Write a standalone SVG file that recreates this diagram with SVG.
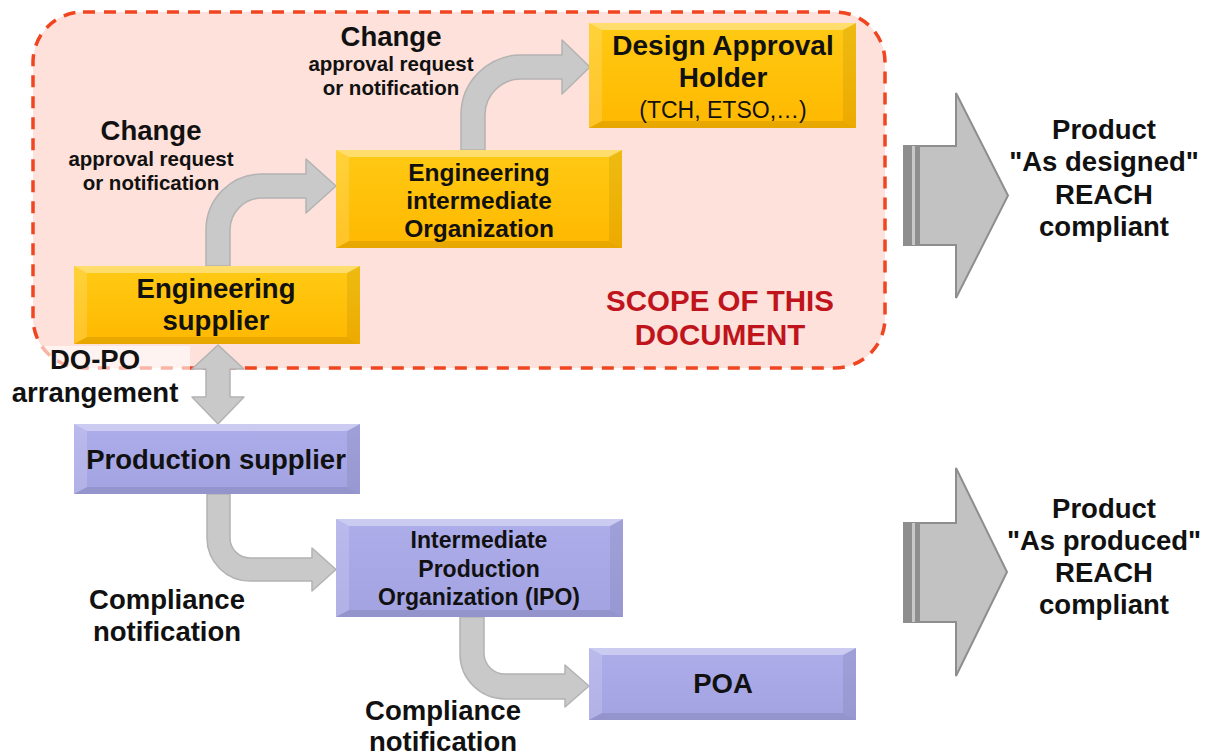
<svg xmlns="http://www.w3.org/2000/svg" width="1207" height="756" viewBox="0 0 1207 756">
  <defs>
    <linearGradient id="goldFace" x1="0" y1="0" x2="0" y2="1">
      <stop offset="0" stop-color="#FFCA14"/>
      <stop offset="1" stop-color="#FFB800"/>
    </linearGradient>
    <linearGradient id="lilacFace" x1="0" y1="0" x2="0" y2="1">
      <stop offset="0" stop-color="#ADADEA"/>
      <stop offset="1" stop-color="#A3A3E2"/>
    </linearGradient>
    <style>
      .t { font-family: "Liberation Sans", Arial, sans-serif; font-weight: bold; fill: #111; text-anchor: middle; }
      .r { font-family: "Liberation Sans", Arial, sans-serif; font-weight: normal; fill: #111; text-anchor: middle; }
      .scope { font-family: "Liberation Sans", Arial, sans-serif; font-weight: bold; fill: #C0141C; text-anchor: middle; font-size: 29.5px; }
      .gold { fill: url(#goldFace); }
      .lilac { fill: url(#lilacFace); }
      .bv-top { fill: #fff; opacity: 0.38; }
      .bv-left { fill: #fff; opacity: 0.16; }
      .bv-right { fill: #000; opacity: 0.07; }
      .bv-bot { fill: #000; opacity: 0.09; }
      .flow { fill: #C9C9C9; stroke: #B3B3B3; stroke-width: 1.5; stroke-linejoin: round; }
      .big { fill: #C2C2C2; stroke: #8E8E8E; stroke-width: 2; stroke-linejoin: miter; }
      .stripe-d { fill: #8E8E8E; }
      .stripe-l { fill: #C8C8C8; }
    </style>
  </defs>

  <rect width="1207" height="756" fill="#fff"/>

  <!-- scope frame -->
  <g id="scope">
    <rect x="33" y="12" width="852" height="356" rx="50" ry="50" fill="#FDE1DA" stroke="#F04520" stroke-width="3.5" stroke-dasharray="12 9"/>
    <rect x="38" y="346" width="152" height="27" fill="#fff" opacity="0.6"/>
    <text class="scope" x="720" y="311">SCOPE OF THIS</text>
    <text class="scope" x="720" y="345">DOCUMENT</text>
  </g>

  <!-- connectors -->
  <g id="connectors">
    <path class="flow" d="M206,266 L206,230 A56,56 0 0 1 262,174 L306,174 L306,159 L336,186 L306,213 L306,198 L262,198 A32,32 0 0 0 230,230 L230,266 Z"/>
    <path class="flow" d="M461,150 L461,115 A60,60 0 0 1 521,55 L562,55 L562,40 L590,67 L562,94 L562,79 L521,79 A36,36 0 0 0 485,115 L485,150 Z"/>
    <path class="flow" d="M218,345 L244,369 L230,369 L230,397 L244,397 L218,424 L192,397 L206,397 L206,369 L192,369 Z"/>
    <path class="flow" d="M207,494 L207,538 A43,43 0 0 0 250,581 L312,581 L312,591 L336,569.5 L312,548 L312,558 L250,558 A20,20 0 0 1 230,538 L230,494 Z"/>
    <path class="flow" d="M460,617 L460,654 A45,45 0 0 0 505,699 L565,699 L565,707 L589,686 L565,665 L565,674 L505,674 A21,21 0 0 1 484,654 L484,617 Z"/>

    <text class="t" x="151" y="140" font-size="27.5">Change</text>
    <text class="t" x="151" y="166" font-size="20.5">approval request</text>
    <text class="t" x="151" y="190" font-size="20.5">or notification</text>

    <text class="t" x="391" y="46" font-size="27.5">Change</text>
    <text class="t" x="391" y="71" font-size="20.5">approval request</text>
    <text class="t" x="391" y="95" font-size="20.5">or notification</text>

    <text class="t" x="95" y="369" font-size="27.5">DO-PO</text>
    <text class="t" x="95" y="402" font-size="27.5">arrangement</text>

    <text class="t" x="167" y="609" font-size="27.5">Compliance</text>
    <text class="t" x="167" y="641" font-size="27.5">notification</text>

    <text class="t" x="443" y="720" font-size="27.5">Compliance</text>
    <text class="t" x="443" y="751" font-size="27.5">notification</text>
  </g>

  <!-- engineering supplier -->
  <g id="eng-supplier">
    <rect class="gold" x="74" y="266" width="286" height="78"/>
    <polygon class="bv-top" points="74,266 360,266 347,273 87,273"/>
    <polygon class="bv-left" points="74,266 87,273 87,337 74,344"/>
    <polygon class="bv-right" points="360,266 347,273 347,337 360,344"/>
    <polygon class="bv-bot" points="74,344 360,344 347,337 87,337"/>
    <text class="t" x="216" y="298" font-size="27.5">Engineering</text>
    <text class="t" x="216" y="330" font-size="27.5">supplier</text>
  </g>

  <!-- engineering intermediate organization -->
  <g id="eng-intermediate">
    <rect class="gold" x="336" y="150" width="286" height="98"/>
    <polygon class="bv-top" points="336,150 622,150 609,157 349,157"/>
    <polygon class="bv-left" points="336,150 349,157 349,241 336,248"/>
    <polygon class="bv-right" points="622,150 609,157 609,241 622,248"/>
    <polygon class="bv-bot" points="336,248 622,248 609,241 349,241"/>
    <text class="t" x="479" y="181" font-size="24.5">Engineering</text>
    <text class="t" x="479" y="209" font-size="24.5">intermediate</text>
    <text class="t" x="479" y="237" font-size="24.5">Organization</text>
  </g>

  <!-- design approval holder -->
  <g id="design-approval-holder">
    <rect class="gold" x="589" y="23" width="267" height="105"/>
    <polygon class="bv-top" points="589,23 856,23 843,30 602,30"/>
    <polygon class="bv-left" points="589,23 602,30 602,121 589,128"/>
    <polygon class="bv-right" points="856,23 843,30 843,121 856,128"/>
    <polygon class="bv-bot" points="589,128 856,128 843,121 602,121"/>
    <text class="t" x="723" y="55" font-size="28">Design Approval</text>
    <text class="t" x="723" y="87" font-size="28">Holder</text>
    <text class="r" x="723" y="118" font-size="23">(TCH, ETSO,…)</text>
  </g>

  <!-- production supplier -->
  <g id="production-supplier">
    <rect class="lilac" x="74" y="424" width="286" height="70"/>
    <polygon class="bv-top" points="74,424 360,424 347,431 87,431"/>
    <polygon class="bv-left" points="74,424 87,431 87,487 74,494"/>
    <polygon class="bv-right" points="360,424 347,431 347,487 360,494"/>
    <polygon class="bv-bot" points="74,494 360,494 347,487 87,487"/>
    <text class="t" x="216" y="469" font-size="27.5">Production supplier</text>
  </g>

  <!-- intermediate production organization -->
  <g id="ipo">
    <rect class="lilac" x="336" y="519" width="287" height="98"/>
    <polygon class="bv-top" points="336,519 623,519 610,526 349,526"/>
    <polygon class="bv-left" points="336,519 349,526 349,610 336,617"/>
    <polygon class="bv-right" points="623,519 610,526 610,610 623,617"/>
    <polygon class="bv-bot" points="336,617 623,617 610,610 349,610"/>
    <text class="t" x="479" y="548" font-size="23">Intermediate</text>
    <text class="t" x="479" y="577" font-size="23">Production</text>
    <text class="t" x="479" y="605" font-size="23">Organization (IPO)</text>
  </g>

  <!-- production organisation approval -->
  <g id="poa">
    <rect class="lilac" x="589" y="648" width="267" height="72"/>
    <polygon class="bv-top" points="589,648 856,648 843,655 602,655"/>
    <polygon class="bv-left" points="589,648 602,655 602,713 589,720"/>
    <polygon class="bv-right" points="856,648 843,655 843,713 856,720"/>
    <polygon class="bv-bot" points="589,720 856,720 843,713 602,713"/>
    <text class="t" x="723" y="693" font-size="27.5">POA</text>
  </g>

  <!-- outcome: as designed -->
  <g id="as-designed">
    <path class="big" d="M904,146 L956,146 L956,93 L1008,195.5 L956,298 L956,245 L904,245 Z"/>
    <rect class="stripe-d" x="904" y="146" width="8" height="99"/>
    <rect class="stripe-l" x="912" y="146" width="3" height="99"/>
    <rect class="stripe-d" x="915" y="146" width="5" height="99"/>
    <text class="t" x="1104" y="139" font-size="27.5">Product</text>
    <text class="t" x="1104" y="171" font-size="27.5">"As designed"</text>
    <text class="t" x="1104" y="204" font-size="27.5">REACH</text>
    <text class="t" x="1104" y="236" font-size="27.5">compliant</text>
  </g>

  <!-- outcome: as produced -->
  <g id="as-produced">
    <path class="big" d="M904,523 L956,523 L956,468 L1007,572 L956,676 L956,622 L904,622 Z"/>
    <rect class="stripe-d" x="904" y="523" width="8" height="99"/>
    <rect class="stripe-l" x="912" y="523" width="3" height="99"/>
    <rect class="stripe-d" x="915" y="523" width="5" height="99"/>
    <text class="t" x="1104" y="518" font-size="27.5">Product</text>
    <text class="t" x="1104" y="550" font-size="27.5">"As produced"</text>
    <text class="t" x="1104" y="582" font-size="27.5">REACH</text>
    <text class="t" x="1104" y="614" font-size="27.5">compliant</text>
  </g>
</svg>
